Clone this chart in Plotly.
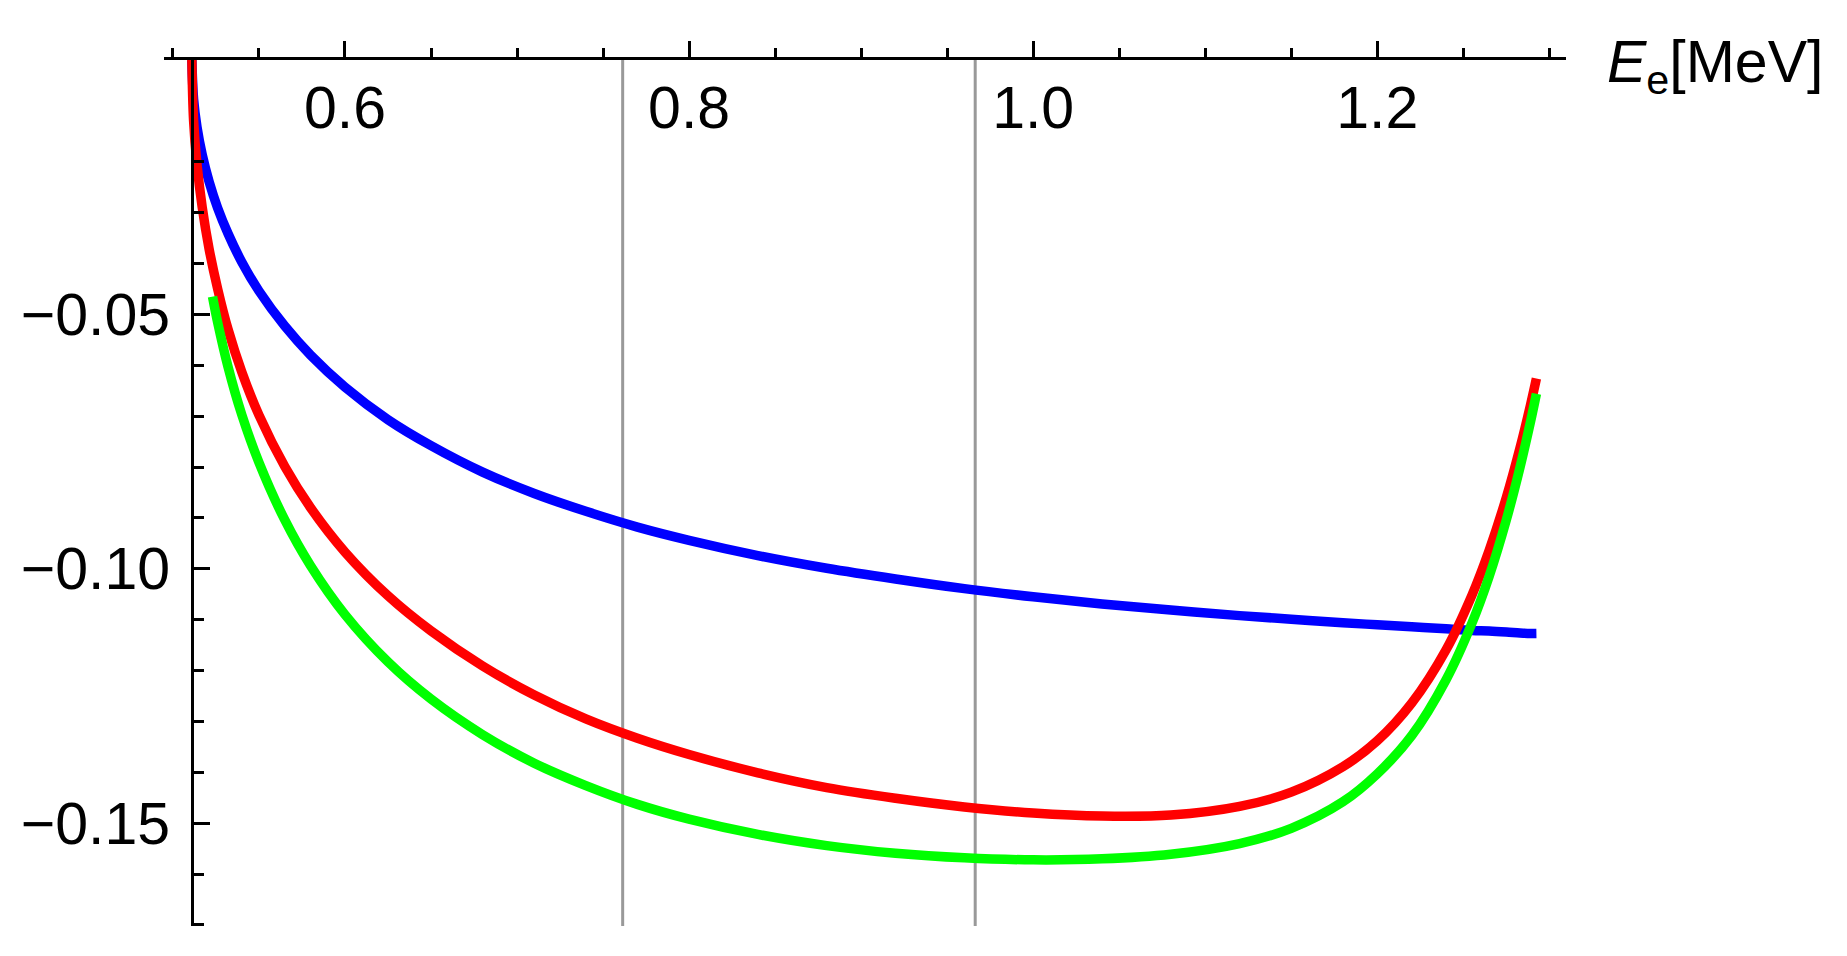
import plotly.graph_objects as go

# ---- data ----
E_main = [0.511, 0.512, 0.514, 0.517, 0.521, 0.526, 0.532, 0.54, 0.55, 0.565, 0.58, 0.60,
          0.625, 0.65, 0.68, 0.71, 0.74, 0.77, 0.80, 0.84, 0.88, 0.92, 0.96, 1.00, 1.04,
          1.08, 1.12, 1.15, 1.18, 1.20, 1.22, 1.24, 1.255, 1.265, 1.275, 1.283, 1.289, 1.2925]

blue_vals = [0.0, -0.0077, -0.0132, -0.0186, -0.0239, -0.0291, -0.0341, -0.0397, -0.0454,
             -0.0523, -0.0580, -0.0643, -0.0707, -0.0758, -0.0810, -0.0852, -0.0887, -0.0918,
             -0.0944, -0.0974, -0.0999, -0.1020, -0.1039, -0.1055, -0.1069, -0.1081, -0.1092,
             -0.1099, -0.1106, -0.1110, -0.1114, -0.1118, -0.1121, -0.1122, -0.1124, -0.1126,
             -0.1127, -0.1127]

red_vals = [0.0, -0.0119, -0.0206, -0.0289, -0.0371, -0.0450, -0.0529, -0.0613, -0.0698,
            -0.0799, -0.0880, -0.0967, -0.1053, -0.1122, -0.1191, -0.1248, -0.1295, -0.1333,
            -0.1365, -0.1401, -0.1430, -0.1451, -0.1468, -0.1480, -0.1486, -0.1484, -0.1467,
            -0.1439, -0.1389, -0.1338, -0.1264, -0.1159, -0.1052, -0.0964, -0.0860, -0.0762,
            -0.0679, -0.0626]

E_green = [0.523, 0.526, 0.532, 0.54, 0.55, 0.565, 0.58, 0.60, 0.625, 0.65, 0.68, 0.71, 0.74,
           0.77, 0.80, 0.84, 0.88, 0.92, 0.96, 1.00, 1.04, 1.08, 1.12, 1.15, 1.18, 1.20, 1.22,
           1.24, 1.255, 1.265, 1.275, 1.283, 1.289, 1.2925]
green_vals = [-0.0465, -0.0516, -0.0603, -0.0697, -0.0791, -0.0904, -0.0994, -0.1090, -0.1183,
              -0.1256, -0.1326, -0.1382, -0.1426, -0.1463, -0.1492, -0.1522, -0.1544, -0.1559,
              -0.1568, -0.1572, -0.1570, -0.1561, -0.1540, -0.1510, -0.1458, -0.1403, -0.1328,
              -0.1218, -0.1107, -0.1015, -0.0904, -0.0800, -0.0712, -0.0656]

vline_x = [0.7614, 0.9663]

x_tick_vals = [0.6, 0.8, 1.0, 1.2]
x_tick_text = ["0.6", "0.8", "1.0", "1.2"]
x_minor_vals = [0.50, 0.55, 0.65, 0.70, 0.75, 0.85, 0.90, 0.95, 1.05, 1.10, 1.15, 1.25, 1.30]
y_tick_vals = [-0.05, -0.10, -0.15]
y_tick_text = ["\u22120.05", "\u22120.10", "\u22120.15"]
y_minor_vals = [-0.01, -0.02, -0.03, -0.04, -0.06, -0.07, -0.08, -0.09, -0.11, -0.12,
                -0.13, -0.14, -0.16, -0.17]

x_range = [0.4948, 1.3097]
y_range = [-0.1702, 0.0]
y_axis_at = 0.511

FONT = "Liberation Sans, Arial, sans-serif"
FS = 59

fig = go.Figure()
for xv in vline_x:
    fig.add_trace(go.Scatter(x=[xv, xv], y=[y_range[1], y_range[0]], mode="lines",
                             line=dict(color="#999999", width=3), hoverinfo="skip",
                             showlegend=False))

for xs, ys, col in [(E_main, blue_vals, "#0000FF"),
                    (E_main, red_vals, "#FF0000"),
                    (E_green, green_vals, "#00FF00")]:
    fig.add_trace(go.Scatter(x=xs, y=ys, mode="lines",
                             line=dict(color=col, width=9.5, shape="spline", smoothing=1.0),
                             showlegend=False))

W, H = 1847, 956
ml, mr, mt, mb = 164, 281, 60, 30

fig.update_layout(
    width=W, height=H,
    margin=dict(l=ml, r=mr, t=mt, b=mb, pad=0),
    paper_bgcolor="white", plot_bgcolor="white",
    font=dict(family=FONT, size=FS, color="black"),
    showlegend=False,
    xaxis=dict(
        range=x_range, side="top", anchor="y",
        showgrid=False, zeroline=False,
        showline=True, linecolor="black", linewidth=3,
        ticks="outside", ticklen=16, tickwidth=3, tickcolor="black",
        tickmode="array", tickvals=x_tick_vals, ticktext=x_tick_text,
        ticklabelposition="inside", ticklabelstandoff=36,
        tickfont=dict(family=FONT, size=FS, color="black"),
        minor=dict(tickmode="array", tickvals=x_minor_vals, ticks="outside",
                   ticklen=9, tickwidth=3, tickcolor="black", showgrid=False),
    ),
    yaxis=dict(
        range=y_range, anchor="free",
        position=(y_axis_at - x_range[0]) / (x_range[1] - x_range[0]),
        showgrid=False, zeroline=False,
        showline=True, linecolor="black", linewidth=3,
        ticks="inside", ticklen=16, tickwidth=3, tickcolor="black",
        tickmode="array", tickvals=y_tick_vals, ticktext=y_tick_text,
        ticklabelstandoff=9,
        tickfont=dict(family=FONT, size=FS, color="black"),
        minor=dict(tickmode="array", tickvals=y_minor_vals, ticks="inside",
                   ticklen=10, tickwidth=3, tickcolor="black", showgrid=False),
    ),
)

fig.add_annotation(
    text="<i>E</i><sub>e</sub>[MeV]", xref="paper", yref="paper",
    x=1.028, y=1.0, xanchor="left", yanchor="middle", yshift=-6, showarrow=False,
    font=dict(family=FONT, size=FS, color="black"),
)

fig.write_html("out.html", config={"displayModeBar": False},
               post_script="document.body.style.margin='0';")
